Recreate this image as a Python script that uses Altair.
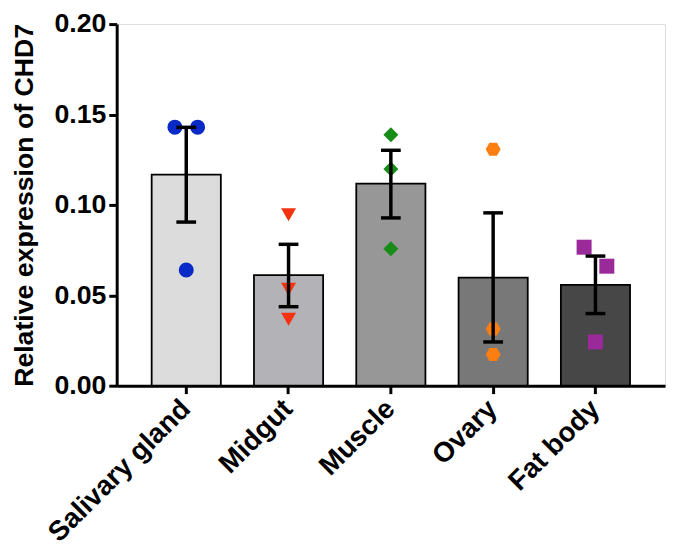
import altair as alt
import pandas as pd

tissues = ["Salivary gland", "Midgut", "Muscle", "Ovary", "Fat body"]
means = [0.1167, 0.0612, 0.1118, 0.0598, 0.0558]
err_low = [0.0905, 0.0437, 0.0928, 0.0242, 0.0399]
err_high = [0.1429, 0.0782, 0.1302, 0.0956, 0.0717]
bar_colors = ["#DCDCDC", "#B3B3B7", "#979797", "#787878", "#474747"]
point_colors = ["#0A2AC8", "#F5320F", "#178C17", "#FC7E10", "#9A2A9A"]
hexagon = "M-1,0L-0.5,-0.866L0.5,-0.866L1,0L0.5,0.866L-0.5,0.866Z"
point_shapes = ["circle", "triangle-down", "diamond", hexagon, "square"]

pt_tissue = ["Salivary gland"] * 3 + ["Midgut"] * 3 + ["Muscle"] * 3 + ["Ovary"] * 3 + ["Fat body"] * 3
pt_value = [0.1430, 0.1430, 0.0640,
            0.0945, 0.0533, 0.0367,
            0.1388, 0.1198, 0.0757,
            0.1308, 0.0314, 0.0173,
            0.0766, 0.0661, 0.0242]
# -1 = left of centre, 1 = right of centre, 0 = centred
pt_jitter = [-1, 1, 0,
             0, 0, 0,
             0, 0, 0,
             0, 0, 0,
             -1, 1, 0]

bars = pd.DataFrame({"tissue": tissues, "mean": means, "lo": err_low, "hi": err_high})
pts = pd.DataFrame({"tissue": pt_tissue, "value": pt_value, "jit": pt_jitter})

FONT = "Liberation Sans"

x_enc = alt.X(
    "tissue:N",
    sort=tissues,
    title=None,
    scale=alt.Scale(paddingInner=0.324, paddingOuter=0.342),
    axis=alt.Axis(
        labelAngle=-45,
        labelAlign="right",
        labelBaseline="middle",
        labelFont=FONT,
        labelFontWeight="bold",
        labelFontSize=28,
        labelColor="black",
        labelPadding=11,
        labelLimit=0,
        labelOverlap=False,
        domainColor="black",
        domainWidth=3,
        tickColor="black",
        tickWidth=3,
        tickSize=8,
        grid=False,
    ),
)

y_scale = alt.Scale(domain=[0, 0.2], nice=False)
y_axis = alt.Axis(
    values=[0, 0.05, 0.10, 0.15, 0.20],
    format=".2f",
    title="Relative expression of CHD7",
    titleFont=FONT,
    titleFontWeight="bold",
    titleFontSize=27,
    titleColor="black",
    titlePadding=16,
    titleLimit=0,
    labelFont=FONT,
    labelFontWeight="bold",
    labelFontSize=27,
    labelColor="black",
    labelPadding=3,
    domainColor="black",
    domainWidth=3,
    tickColor="black",
    tickWidth=3,
    tickSize=8,
    grid=False,
)

xs = alt.X("tissue:N", sort=tissues)

bar_layer = alt.Chart(bars).mark_bar(stroke="black", strokeWidth=1.8).encode(
    x=x_enc,
    y=alt.Y("mean:Q", scale=y_scale, axis=y_axis),
    color=alt.Color("tissue:N", scale=alt.Scale(domain=tissues, range=bar_colors), legend=None),
)


def point_layer(jit, offset):
    return alt.Chart(pts).transform_filter(alt.datum.jit == jit).mark_point(
        filled=True, opacity=1, size=230, xOffset=offset
    ).encode(
        x=xs,
        y=alt.Y("value:Q", scale=y_scale),
        color=alt.Color("tissue:N", scale=alt.Scale(domain=tissues, range=point_colors), legend=None),
        shape=alt.Shape("tissue:N", scale=alt.Scale(domain=tissues, range=point_shapes), legend=None),
    )


rule_layer = alt.Chart(bars).mark_rule(color="black", strokeWidth=3.5).encode(
    x=xs,
    y=alt.Y("lo:Q", scale=y_scale),
    y2="hi:Q",
)

cap_lo = alt.Chart(bars).mark_tick(color="black", thickness=3.5, size=20, opacity=1).encode(
    x=xs,
    y=alt.Y("lo:Q", scale=y_scale),
)
cap_hi = alt.Chart(bars).mark_tick(color="black", thickness=3.5, size=20, opacity=1).encode(
    x=xs,
    y=alt.Y("hi:Q", scale=y_scale),
)

chart = (
    alt.layer(
        bar_layer,
        point_layer(0, 0),
        point_layer(-1, -11.5),
        point_layer(1, 11.5),
        rule_layer,
        cap_lo,
        cap_hi,
    )
    .resolve_scale(color="independent")
    .properties(
        width=555,
        height=366,
        autosize=alt.AutoSizeParams(type="none"),
        padding={"left": 110, "top": 13, "right": 2, "bottom": 163},
    )
    .configure_view(stroke=None)
    .configure(background="white")
)

chart.save("out.html", embed_options={"renderer": "svg", "actions": False})
